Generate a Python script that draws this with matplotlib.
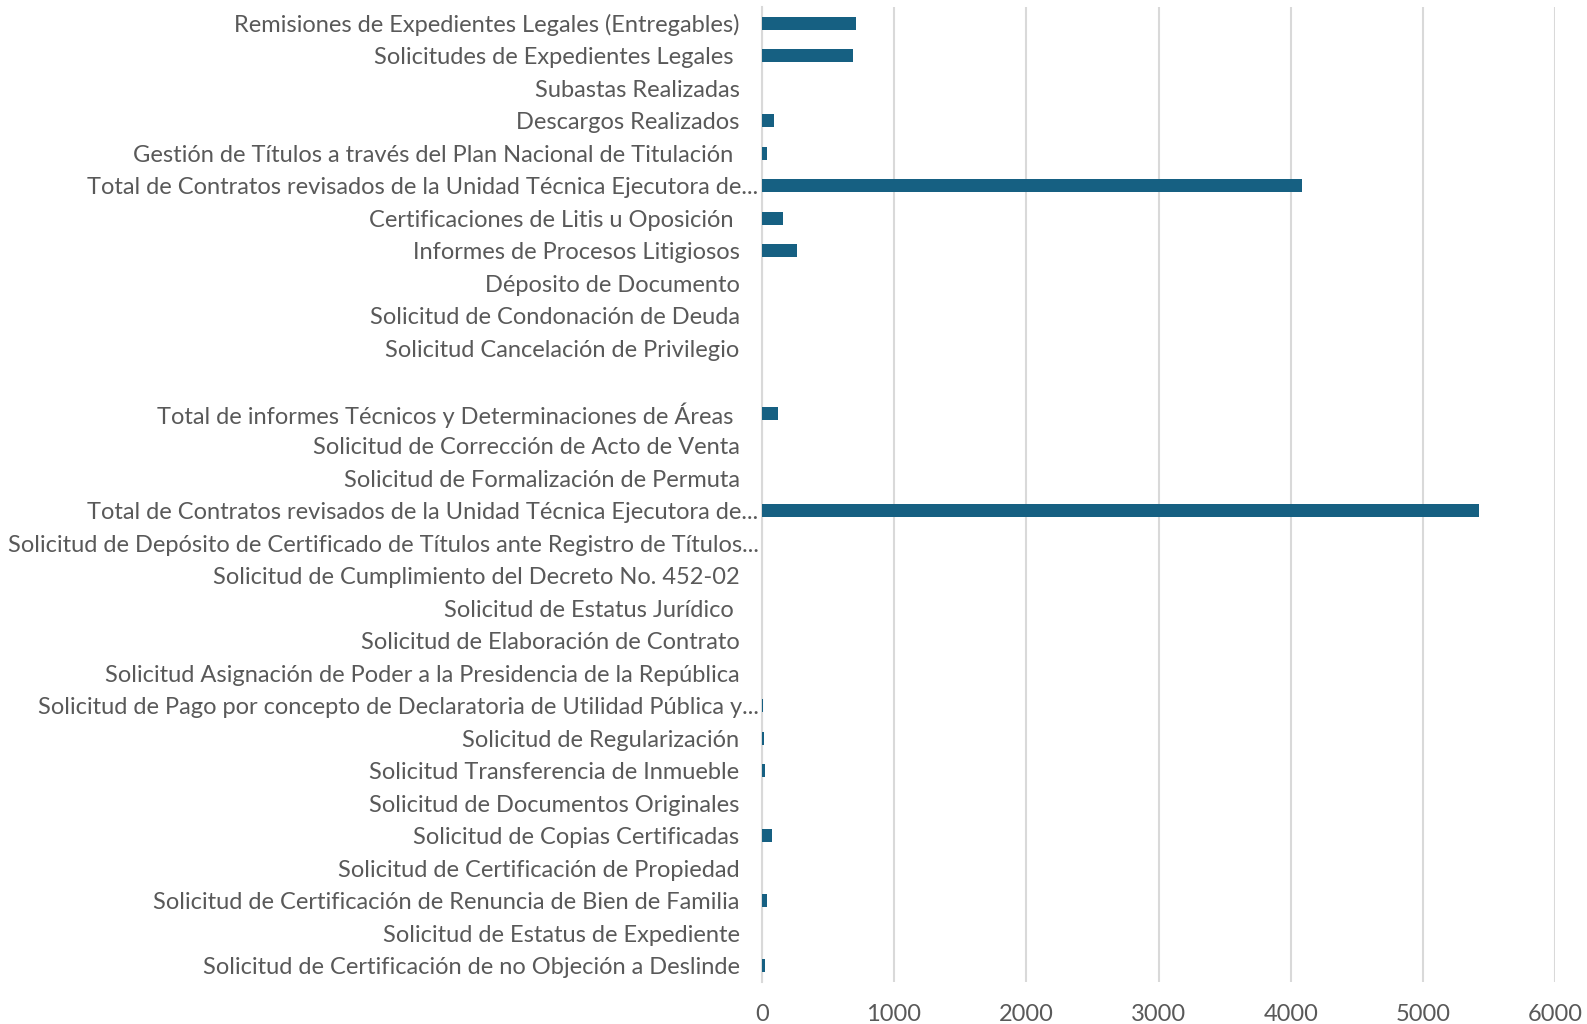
import matplotlib.pyplot as plt
from matplotlib.transforms import ScaledTranslation

categorias = [
    'Remisiones de Expedientes Legales (Entregables)',
    'Solicitudes de Expedientes Legales ',
    'Subastas Realizadas',
    'Descargos Realizados',
    'Gestión de Títulos a través del Plan Nacional de Titulación ',
    'Total de Contratos revisados de la Unidad Técnica Ejecutora de...',
    'Certificaciones de Litis u Oposición ',
    'Informes de Procesos Litigiosos',
    'Déposito de Documento',
    'Solicitud de Condonación de Deuda',
    'Solicitud Cancelación de Privilegio',
    '',
    'Total de informes Técnicos y Determinaciones de Áreas ',
    'Solicitud de Corrección de Acto de Venta',
    'Solicitud de Formalización de Permuta',
    'Total de Contratos revisados de la Unidad Técnica Ejecutora de...',
    'Solicitud de Depósito de Certificado de Títulos ante Registro de Títulos...',
    'Solicitud de Cumplimiento del Decreto No. 452-02',
    'Solicitud de Estatus Jurídico ',
    'Solicitud de Elaboración de Contrato',
    'Solicitud Asignación de Poder a la Presidencia de la República',
    'Solicitud de Pago por concepto de Declaratoria de Utilidad Pública y...',
    'Solicitud de Regularización',
    'Solicitud Transferencia de Inmueble',
    'Solicitud de Documentos Originales',
    'Solicitud de Copias Certificadas',
    'Solicitud de Certificación de Propiedad',
    'Solicitud de Certificación de Renuncia de Bien de Familia',
    'Solicitud de Estatus de Expediente',
    'Solicitud de Certificación de no Objeción a Deslinde',
]

valores = [710, 688, 0, 96, 38, 4085, 161, 267, 0, 0, 0, 0,
           126, 0, 0, 5424, 0, 0, 5, 5, 0, 6, 16, 26, 5, 78, 5, 38, 5, 21]

ticks_x = [0, 1000, 2000, 3000, 4000, 5000, 6000]

COLOR_BARRA = '#166082'
COLOR_TEXTO = '#595959'

plt.rcParams['font.family'] = ['Lato', 'DejaVu Sans']

fig = plt.figure(figsize=(15.87, 10.24), dpi=100)
ax = fig.add_axes([0.480, 0.041, 0.500, 0.952])

pos = list(range(len(categorias)))
ax.barh(pos, valores, height=0.4, color=COLOR_BARRA, zorder=3)

ax.set_yticks(pos)
ax.set_yticklabels(categorias, fontsize=17, color=COLOR_TEXTO)
ax.set_ylim(len(categorias) - 0.5, -0.5)

ax.set_xlim(0, 6000)
ax.set_xticks(ticks_x)
ax.set_xticklabels([str(t) for t in ticks_x], fontsize=17, color=COLOR_TEXTO)

ax.grid(axis='x', color='#d9d9d9', linewidth=1.5, zorder=0)
ax.tick_params(axis='both', length=0)
ax.tick_params(axis='y', pad=16)
ax.tick_params(axis='x', pad=15.5)
for s in ['top', 'right', 'bottom']:
    ax.spines[s].set_visible(False)
ax.spines['left'].set_color('#d9d9d9')
ax.spines['left'].set_linewidth(1.5)

# labels cut with "..." sit a bit closer to the axis
for lab in ax.get_yticklabels():
    if lab.get_text().endswith('...'):
        lab.set_transform(lab.get_transform() + ScaledTranslation(0.19, 0, fig.dpi_scale_trans))

fig.savefig('out.png', dpi=100)
